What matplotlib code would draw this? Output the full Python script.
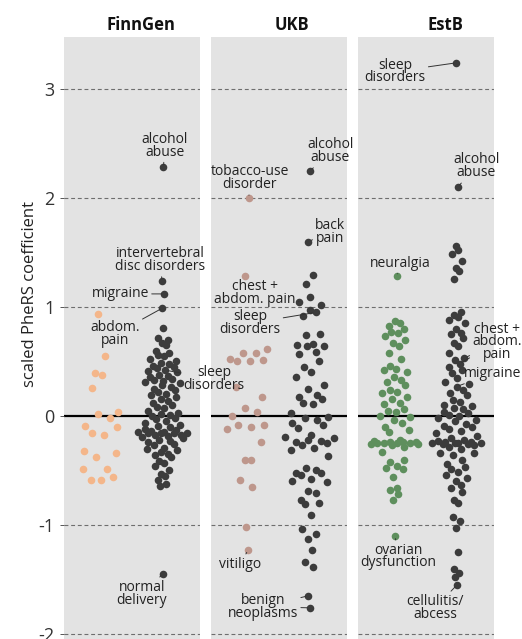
import numpy as np
import matplotlib
matplotlib.use('Agg')
import matplotlib.pyplot as plt

plt.rcParams['font.family'] = ['Open Sans', 'DejaVu Sans']

panels = ['FinnGen', 'UKB', 'EstB']
panel_colors = ['#F4B68A', '#BE978C', '#5E8F5D']
dark_color = '#3C3C3C'

yticks = [3, 2, 1, 0, -1, -2]
ytick_labels = ['3', '2', '1', '0', '-1', '-2']

# values, one list per column of points
finngen_col = [0.94, 0.55, 0.39, 0.38, 0.26, 0.04, 0.02, -0.02, -0.09, -0.10,
               -0.16, -0.17, -0.32, -0.34, -0.38, -0.49, -0.49, -0.56, -0.59, -0.59]
finngen_dark = [2.28, 1.24, 1.12, 0.99, 0.81, 0.72, 0.70, 0.67, 0.65, 0.60, 0.58,
                0.56, 0.55, 0.52, 0.50, 0.49, 0.48, 0.46, 0.45, 0.44, 0.42, 0.41,
                0.40, 0.38, 0.37, 0.36, 0.34, 0.33, 0.32, 0.31, 0.30, 0.28, 0.27,
                0.25, 0.24, 0.22, 0.20, 0.19, 0.17, 0.16, 0.14, 0.12, 0.10, 0.08,
                0.07, 0.05, 0.03, 0.02, 0.01, 0.00, -0.02, -0.03, -0.05, -0.06,
                -0.08, -0.09, -0.10, -0.12, -0.13, -0.14, -0.15, -0.15, -0.16,
                -0.16, -0.16, -0.16, -0.17, -0.17, -0.18, -0.19, -0.20, -0.22,
                -0.23, -0.24, -0.26, -0.27, -0.29, -0.30, -0.31, -0.33, -0.35,
                -0.36, -0.38, -0.41, -0.43, -0.46, -0.50, -0.53, -0.55, -0.59,
                -0.62, -0.64, -1.45]

ukb_col = [2.00, 1.28, 0.61, 0.58, 0.58, 0.52, 0.51, 0.50, 0.50, 0.27, 0.17,
           0.07, 0.04, 0.00, -0.08, -0.08, -0.10, -0.12, -0.24, -0.40, -0.40,
           -0.59, -0.65, -1.02, -1.23]
ukb_dark = [2.25, 1.60, 1.29, 1.21, 1.09, 1.05, 1.02, 0.97, 0.95, 0.92, 0.75,
            0.74, 0.66, 0.65, 0.64, 0.64, 0.59, 0.57, 0.50, 0.45, 0.40, 0.36,
            0.28, 0.25, 0.19, 0.17, 0.16, 0.12, 0.11, 0.03, -0.01, -0.02, -0.04,
            -0.06, -0.08, -0.11, -0.17, -0.19, -0.20, -0.22, -0.23, -0.24, -0.25,
            -0.27, -0.29, -0.31, -0.37, -0.48, -0.50, -0.52, -0.52, -0.54, -0.58,
            -0.60, -0.61, -0.69, -0.71, -0.77, -0.80, -0.81, -0.91, -1.04, -1.08,
            -1.13, -1.23, -1.34, -1.39, -1.65, -1.76]

estb_col = [1.28, 0.87, 0.85, 0.83, 0.80, 0.77, 0.76, 0.73, 0.70, 0.67, 0.64,
            0.58, 0.52, 0.46, 0.43, 0.42, 0.40, 0.36, 0.33, 0.31, 0.28, 0.24,
            0.22, 0.21, 0.17, 0.16, 0.12, 0.11, 0.06, 0.05, 0.04, 0.00, -0.01,
            -0.04, -0.06, -0.10, -0.13, -0.15, -0.22, -0.23, -0.24, -0.24, -0.24,
            -0.25, -0.25, -0.25, -0.25, -0.26, -0.26, -0.27, -0.28, -0.33, -0.40,
            -0.42, -0.46, -0.48, -0.49, -0.56, -0.66, -0.68, -0.72, -0.77, -1.10]
estb_dark = [3.24, 2.10, 1.56, 1.52, 1.49, 1.42, 1.36, 1.33, 1.26, 0.95, 0.93,
             0.91, 0.88, 0.85, 0.80, 0.76, 0.75, 0.72, 0.67, 0.64, 0.58, 0.53,
             0.51, 0.48, 0.45, 0.42, 0.39, 0.35, 0.31, 0.29, 0.27, 0.24, 0.21,
             0.19, 0.15, 0.13, 0.10, 0.09, 0.07, 0.06, 0.04, 0.03, 0.01, 0.00,
             -0.02, -0.04, -0.05, -0.07, -0.09, -0.10, -0.12, -0.14, -0.16, -0.18,
             -0.20, -0.22, -0.23, -0.24, -0.24, -0.25, -0.25, -0.25, -0.25, -0.26,
             -0.26, -0.27, -0.28, -0.30, -0.34, -0.34, -0.36, -0.40, -0.44, -0.47,
             -0.49, -0.51, -0.54, -0.57, -0.60, -0.63, -0.66, -0.70, -0.77, -0.80,
             -0.93, -0.96, -1.03, -1.25, -1.40, -1.44, -1.48, -1.55]

panel_data = [(finngen_col, finngen_dark), (ukb_col, ukb_dark), (estb_col, estb_dark)]

# (text, column, point values, text position in data units)
panel_labels = [
    [('alcohol\nabuse', 1, [2.28], (2.03, 2.48)),
     ('intervertebral\ndisc disorders', 1, [1.24], (1.95, 1.43)),
     ('migraine', 1, [1.12], (1.31, 1.12)),
     ('abdom.\npain', 1, [0.99], (1.225, 0.75)),
     ('sleep\ndisorders', 1, [0.42], (2.83, 0.34)),
     ('normal\ndelivery', 1, [-1.45], (1.66, -1.63))],
    [('tobacco-use\ndisorder', 0, [2.00], (1.03, 2.18)),
     ('alcohol\nabuse', 1, [2.25], (2.33, 2.43)),
     ('back\npain', 1, [1.60], (2.33, 1.69)),
     ('chest +\nabdom. pain', 1, [1.05], (1.11, 1.13)),
     ('sleep\ndisorders', 1, [0.95], (1.03, 0.85)),
     ('vitiligo', 0, [-1.23], (0.87, -1.36)),
     ('benign\nneoplasms', 1, [-1.65, -1.76], (1.24, -1.75))],
    [('sleep\ndisorders', 1, [3.24], (1.0, 3.16)),
     ('alcohol\nabuse', 1, [2.10], (2.31, 2.29)),
     ('neuralgia', 0, [1.28], (1.08, 1.40)),
     ('chest +\nabdom.\npain', 1, [0.53, 0.48], (2.65, 0.68)),
     ('migraine', 1, [0.27], (2.58, 0.39)),
     ('ovarian\ndysfunction', 0, [-1.10], (1.05, -1.29)),
     ('cellulitis/\nabcess', 1, [-1.55], (1.65, -1.76))],
]


def van_der_corput(n, base=2):
    seq = []
    for i in range(1, n + 1):
        v, denom, k = 0.0, 1.0, i
        while k > 0:
            denom *= base
            k, rem = divmod(k, base)
            v += rem / denom
        seq.append(v)
    return np.array(seq)


def quasirandom(values, width=0.42, adjust=0.5):
    y = np.asarray(values, float)
    n = len(y)
    sd = y.std(ddof=1)
    iqr = np.subtract(*np.percentile(y, [75, 25]))
    bw = 0.9 * min(sd, iqr / 1.34) * n ** -0.2 * adjust
    dens = np.exp(-0.5 * ((y[:, None] - y[None, :]) / bw) ** 2).sum(1)
    dens = dens / dens.max()
    order = np.argsort(y, kind='stable')
    ranks = np.empty(n, int)
    ranks[order] = np.arange(n)
    return (van_der_corput(n)[ranks] * 2 - 1) * dens * width


W, H = 522, 639
fig = plt.figure(figsize=(W / 100, H / 100), dpi=100)

left, pw, gap, top = 64, 136, 11, 37
title_x = [141, 292, 445]

for i, name in enumerate(panels):
    ax = fig.add_axes([(left + i * (pw + gap)) / W, 0, pw / W, (H - top) / H])
    # earlier panels on top so their overflowing labels stay visible
    ax.set_zorder(10 - i)
    ax.set_facecolor('#E3E3E3')
    ax.set_xlim(0.4, 2.6)
    ax.set_ylim(-2.046, 3.477)
    for s in ax.spines.values():
        s.set_visible(False)
    for t in yticks:
        if t == 0:
            ax.axhline(0, color='black', lw=1.6, zorder=1)
        else:
            ax.axhline(t, color='#6E6E6E', lw=0.8, ls=(0, (3.5, 2.5)), zorder=1)
    ax.set_xticks([])
    ax.set_yticks(yticks)
    if i == 0:
        ax.set_yticklabels(ytick_labels)
        ax.tick_params(axis='y', length=3, width=0.7, color='#555555',
                       labelsize=13, labelcolor='#333333', pad=4)
    else:
        ax.tick_params(axis='y', length=0, labelleft=False)

    pos = []
    for j, vals in enumerate(panel_data[i]):
        xs = (j + 1) + quasirandom(vals)
        colour = panel_colors[i] if j == 0 else dark_color
        ax.scatter(xs, vals, s=30, color=colour, linewidths=0, zorder=3)
        pos.append((xs, np.asarray(vals)))

    for text, col, targets, xytext in panel_labels[i]:
        xs, ys = pos[col]
        for k, tv in enumerate(targets):
            idx = int(np.argmin(np.abs(ys - tv)))
            ax.annotate(text, xy=(xs[idx], ys[idx]), xytext=xytext,
                        ha='center', va='center', fontsize=10, linespacing=0.8,
                        color='#222222' if k == 0 else 'none',
                        annotation_clip=False, zorder=4,
                        arrowprops=dict(arrowstyle='-', color='#333333', lw=0.7,
                                        shrinkA=0, shrinkB=2))

    fig.text(title_x[i] / W, 1 - 25 / H, name, ha='center', va='center',
             fontsize=12, fontweight='bold', color='#111111')

fig.text(30 / W, 1 - 294 / H, 'scaled PheRS coefficient', rotation=90,
         ha='center', va='center', fontsize=12, color='#222222')

fig.savefig('out.png', dpi=100)
